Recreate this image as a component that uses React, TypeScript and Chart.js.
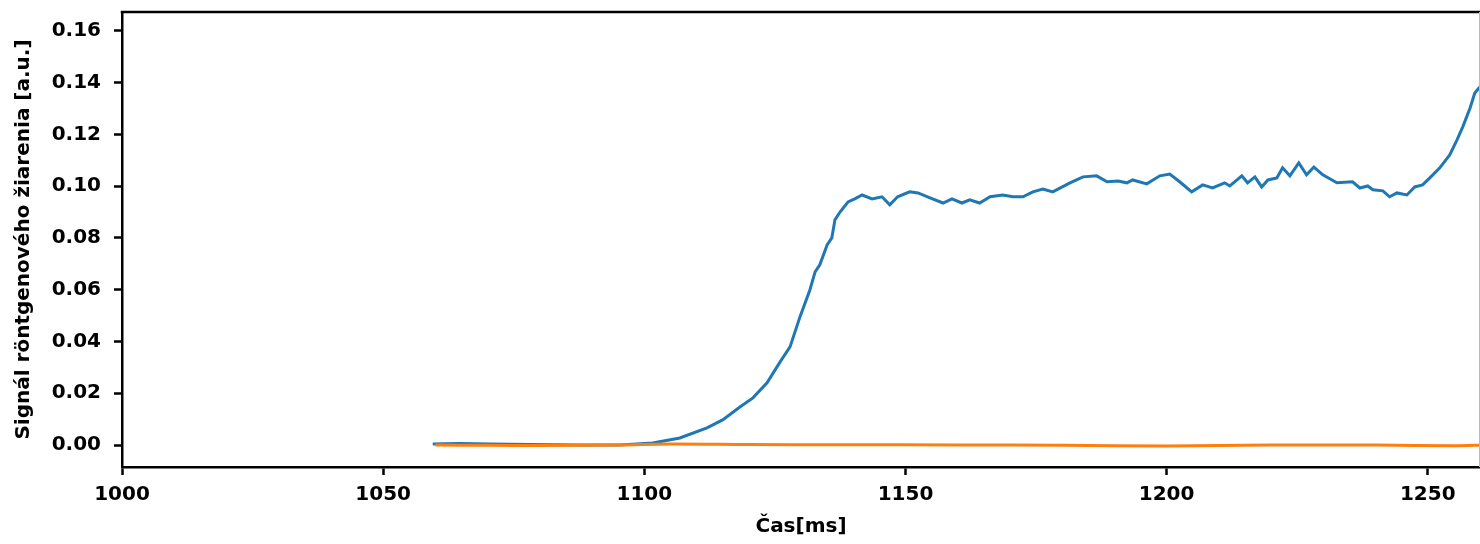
import React, { useEffect, useRef } from "react";
import { Chart, registerables } from "chart.js";

Chart.register(...registerables);

// Time axis [ms] for the X-ray signal
const timeBlue = [
  1059.5, 1064.7, 1070.4, 1078.1, 1087.7, 1095.3, 1101.6, 1106.8, 1112.0, 1115.0,
  1118.3, 1120.8, 1123.5, 1126.0, 1127.9, 1129.8, 1131.7, 1132.7, 1133.6, 1135.0,
  1135.9, 1136.5, 1137.5, 1139.0, 1140.3, 1141.7, 1143.6, 1145.5, 1147.0, 1148.5,
  1150.8, 1152.4, 1154.7, 1157.2, 1158.9, 1160.8, 1162.3, 1164.2, 1166.2, 1168.6,
  1170.6, 1172.5, 1174.4, 1176.3, 1178.2, 1181.5, 1184.0, 1186.6, 1188.6, 1190.7,
  1192.4, 1193.5, 1196.2, 1198.7, 1200.6, 1202.5, 1204.8, 1206.9, 1208.8, 1211.1,
  1212.1, 1214.4, 1215.5, 1216.9, 1218.2, 1219.4, 1221.1, 1222.2, 1223.6, 1225.3,
  1226.8, 1228.2, 1229.9, 1232.6, 1235.6, 1237.0, 1238.5, 1239.5, 1241.4, 1242.7,
  1244.1, 1246.0, 1247.5, 1249.0, 1250.4, 1252.3, 1254.2, 1255.6, 1256.7, 1258.1,
  1259.0, 1260.0, 1261.0,
];
const signalBlue = [
  0.0004, 0.0006, 0.0004, 0.0002, 0.0, 0.0, 0.0008, 0.0027, 0.0066, 0.0097,
  0.0147, 0.0182, 0.024, 0.0321, 0.0379, 0.0495, 0.0599, 0.0669, 0.0696, 0.0773,
  0.08, 0.087, 0.0901, 0.0939, 0.0951, 0.0966, 0.0951, 0.0959, 0.0928, 0.0959,
  0.0978, 0.0974, 0.0955, 0.0935, 0.0951, 0.0935, 0.0947, 0.0935, 0.0959, 0.0966,
  0.0959, 0.0959, 0.0978, 0.0989, 0.0978, 0.1013, 0.1036, 0.104, 0.1017, 0.102,
  0.1013, 0.1024, 0.1009, 0.104, 0.1047, 0.1017, 0.0978, 0.1005, 0.0993, 0.1013,
  0.1001, 0.104, 0.1013, 0.1036, 0.0997, 0.1024, 0.1032, 0.1071, 0.104, 0.109,
  0.1044, 0.1074, 0.1044, 0.1013, 0.1017, 0.0993, 0.1001, 0.0986, 0.0982, 0.0959,
  0.0974, 0.0966, 0.0997, 0.1005, 0.1032, 0.1071, 0.1121, 0.1179, 0.1229, 0.1302,
  0.136, 0.1384, 0.142,
];

const timeOrange = [1060, 1070, 1080, 1095, 1105, 1120, 1140, 1160, 1180, 1200, 1220, 1240, 1255, 1261];
const signalOrange = [0.0, -0.0001, -0.0002, 0.0, 0.0004, 0.0002, 0.0001, 0.0, -0.0001, -0.0004, 0.0, 0.0, -0.0003, 0.0];

const xTicks = [1000, 1050, 1100, 1150, 1200, 1250];
const yTicks = [0.0, 0.02, 0.04, 0.06, 0.08, 0.1, 0.12, 0.14, 0.16];

const xLabel = "Čas[ms]";
const yLabel = "Signál röntgenového žiarenia [a.u.]";

const FONT = { family: "'DejaVu Sans', sans-serif", size: 20, weight: "bold" as const };

const spinePlugin = {
  id: "spines",
  afterDraw(chart: any) {
    const { ctx, chartArea } = chart;
    ctx.save();
    ctx.strokeStyle = "#000";
    ctx.lineWidth = 2.5;
    ctx.beginPath();
    ctx.moveTo(chartArea.left - 1.25, chartArea.top);
    ctx.lineTo(chartArea.right + 2, chartArea.top);
    ctx.stroke();
    ctx.beginPath();
    ctx.lineWidth = 1;
    ctx.strokeStyle = "#bbb";
    ctx.moveTo(chartArea.right - 0.5, chartArea.top);
    ctx.lineTo(chartArea.right - 0.5, chartArea.bottom);
    ctx.stroke();
    ctx.restore();
  },
};

export default function App() {
  const ref = useRef<HTMLCanvasElement | null>(null);

  useEffect(() => {
    if (!ref.current) return;
    const chart = new Chart(ref.current, {
      type: "line",
      data: {
        datasets: [
          {
            data: timeBlue.map((t, i) => ({ x: t, y: signalBlue[i] })),
            borderColor: "#1f77b4",
            borderWidth: 3,
            pointRadius: 0,
            tension: 0,
            order: 1,
          },
          {
            data: timeOrange.map((t, i) => ({ x: t, y: signalOrange[i] })),
            borderColor: "#ff7f0e",
            borderWidth: 3,
            pointRadius: 0,
            tension: 0.3,
            order: 0,
          },
        ],
      },
      options: {
        responsive: false,
        animation: false,
        layout: { padding: { top: 12, left: 0, right: 0, bottom: 0 } },
        plugins: { legend: { display: false }, tooltip: { enabled: false } },
        scales: {
          x: {
            type: "linear",
            min: 1000,
            max: 1260,
            afterBuildTicks: (s: any) => {
              s.ticks = xTicks.map((v) => ({ value: v }));
            },
            afterFit: (s: any) => {
              s.height = 77;
              s.paddingLeft = 0;
              s.paddingRight = 0;
            },
            grid: {
              drawOnChartArea: false,
              drawTicks: true,
              tickLength: 8,
              tickWidth: 2.5,
              tickColor: "#000",
            },
            border: { display: true, color: "#000", width: 2.5 },
            ticks: {
              color: "#000",
              font: FONT,
              padding: 8,
              maxRotation: 0,
              autoSkip: false,
              callback: (v: any) => String(v),
            },
            title: {
              display: true,
              text: xLabel,
              color: "#000",
              font: FONT,
              padding: { top: 0, bottom: 5 },
            },
          },
          y: {
            type: "linear",
            min: -0.0085,
            max: 0.1673,
            afterBuildTicks: (s: any) => {
              s.ticks = yTicks.map((v) => ({ value: v }));
            },
            afterFit: (s: any) => {
              s.width = 122;
              s.paddingTop = 0;
              s.paddingBottom = 0;
            },
            grid: {
              drawOnChartArea: false,
              drawTicks: true,
              tickLength: 8,
              tickWidth: 2.5,
              tickColor: "#000",
            },
            border: { display: true, color: "#000", width: 2.5 },
            ticks: {
              color: "#000",
              font: FONT,
              padding: 13,
              autoSkip: false,
              callback: (v: any) => Number(v).toFixed(2),
            },
            title: {
              display: true,
              text: yLabel,
              color: "#000",
              font: FONT,
              padding: { top: 12, bottom: 0 },
            },
          },
        },
      },
      plugins: [spinePlugin],
    });
    return () => chart.destroy();
  }, []);

  return (
    <div style={{ position: "absolute", left: 0, top: 0, width: 1480, height: 544, background: "#fff" }}>
      <canvas ref={ref} width={1480} height={544} style={{ display: "block" }} />
    </div>
  );
}
